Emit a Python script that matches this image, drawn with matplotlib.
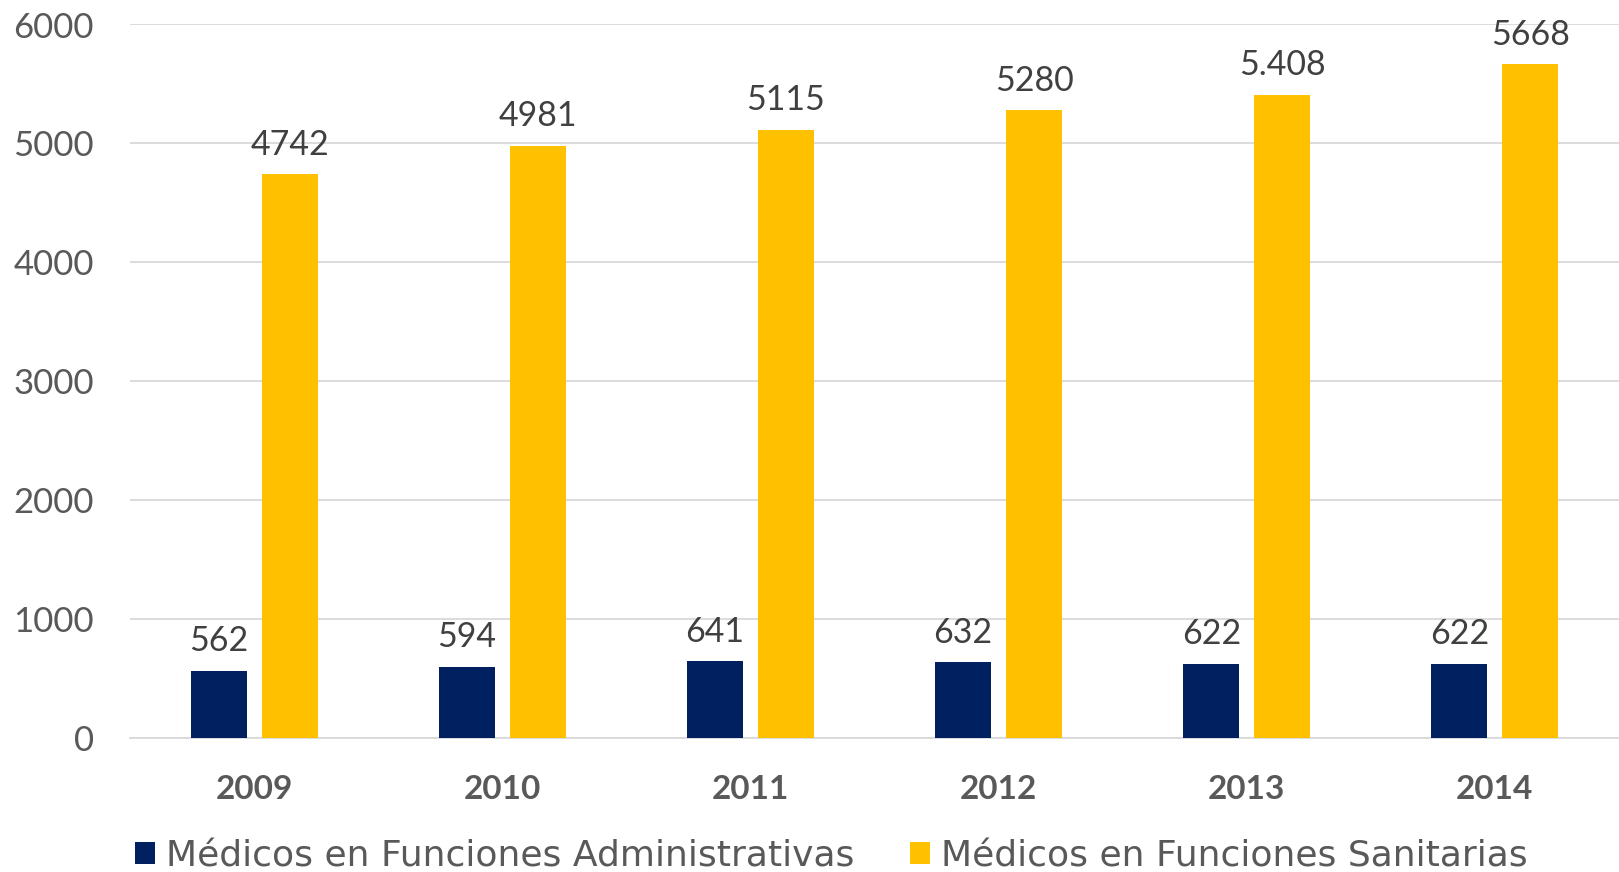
import matplotlib
matplotlib.use("Agg")
import matplotlib.pyplot as plt
from matplotlib.patches import Patch
import numpy as np

years = ["2009", "2010", "2011", "2012", "2013", "2014"]
admin = [562, 594, 641, 632, 622, 622]
sanit = [4742, 4981, 5115, 5280, 5408, 5668]
admin_labels = ["562", "594", "641", "632", "622", "622"]
sanit_labels = ["4742", "4981", "5115", "5280", "5.408", "5668"]
series_names = ["Médicos en Funciones Administrativas", "Médicos en Funciones Sanitarias"]
yticks = [0, 1000, 2000, 3000, 4000, 5000, 6000]

NAVY = "#002060"
GOLD = "#FFC000"
GRID = "#D9D9D9"
TXT = "#595959"
LBL = "#404040"

plt.rcParams['font.family'] = ['Lato', 'DejaVu Sans']

fig = plt.figure(figsize=(16.19, 8.72), dpi=100)
ax = fig.add_axes([130/1619, 1-737.5/872, 1-130/1619, (737.5-24.5)/872])

x = np.arange(len(years))
w = 0.226
off = 0.143
b1 = ax.bar(x - off, admin, w, color=NAVY, zorder=3)
b2 = ax.bar(x + off, sanit, w, color=GOLD, zorder=3)

for bars, labels in ((b1, admin_labels), (b2, sanit_labels)):
    for rect, lab in zip(bars, labels):
        ax.annotate(lab, (rect.get_x() + rect.get_width()/2, rect.get_height()),
                    xytext=(0, 14), textcoords='offset points', ha='center', va='baseline',
                    fontsize=24.5, color=LBL, zorder=4)

ax.set_xlim(-0.5, len(years) - 0.5)
ax.set_ylim(0, 6000)
ax.set_yticks(yticks)
ax.set_yticklabels([str(v) for v in yticks], fontsize=25, color=TXT)
ax.set_xticks(x)
ax.set_xticklabels(years, fontsize=24, color=TXT, fontweight='bold')
ax.tick_params(axis='y', length=0, pad=26)
ax.tick_params(axis='x', length=0, pad=27)
ax.yaxis.grid(True, color=GRID, linewidth=1.3, zorder=0)
for s in ['top', 'right', 'left']:
    ax.spines[s].set_visible(False)
ax.spines['bottom'].set_color(GRID)
ax.spines['bottom'].set_linewidth(1.3)

handles = [Patch(facecolor=NAVY), Patch(facecolor=GOLD)]
leg = fig.legend(handles, series_names, loc='center left',
                 bbox_to_anchor=(135/1619, 1-856/872), ncol=2, frameon=False,
                 prop={'family': 'DejaVu Sans', 'size': 26},
                 handlelength=0.55, handleheight=0.55, handletextpad=0.3,
                 columnspacing=1.55, borderpad=0, borderaxespad=0)
for t in leg.get_texts():
    t.set_color(TXT)

fig.savefig("out.png", dpi=100)
